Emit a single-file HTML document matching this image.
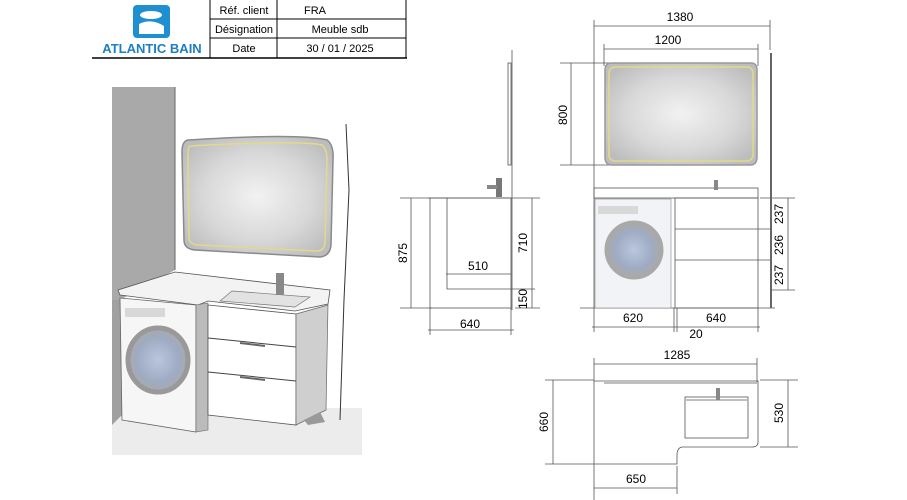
<!DOCTYPE html>
<html><head><meta charset="utf-8"><style>
html,body{margin:0;padding:0;background:#fff;}
svg{display:block;font-family:"Liberation Sans",sans-serif;}
</style></head><body>
<svg width="907" height="500" viewBox="0 0 907 500" xmlns="http://www.w3.org/2000/svg">
<defs>
<radialGradient id="cl" cx="50%" cy="50%" r="60%"><stop offset="0" stop-color="#f2f2f2"/><stop offset="0.6" stop-color="#d8d8d8"/><stop offset="1" stop-color="#bdbdbd"/></radialGradient>
<radialGradient id="dr" cx="50%" cy="50%" r="50%"><stop offset="0" stop-color="#b9c6dc"/><stop offset="0.7" stop-color="#9eabc3"/><stop offset="1" stop-color="#aaa"/></radialGradient>
</defs>
<!-- header -->
<rect x="133" y="5" width="37" height="33" rx="4" fill="#1e8fd0"/>
<ellipse cx="151" cy="15" rx="11" ry="4" fill="#fff"/>
<path d="M139 24 q12 -6 25 2 v8 h-25z" fill="#fff"/>
<text x="152" y="53" font-size="13" font-weight="bold" fill="#1c7fc0" text-anchor="middle">ATLANTIC BAIN</text>
<g stroke="#000" stroke-width="1" fill="none">
<line x1="210" y1="0" x2="210" y2="58"/><line x1="277" y1="0" x2="277" y2="58"/><line x1="406" y1="0" x2="406" y2="58"/>
<line x1="210" y1="19" x2="406" y2="19"/><line x1="210" y1="38" x2="406" y2="38"/>
<line x1="92" y1="58" x2="407" y2="58" stroke-width="1.5"/>
</g>
<g font-size="11" fill="#000" text-anchor="middle">
<text x="244" y="14">Réf. client</text><text x="244" y="33">Désignation</text><text x="244" y="52">Date</text>
<text x="315" y="14">FRA</text><text x="340" y="33">Meuble sdb</text><text x="340" y="52">30 / 01 / 2025</text>
</g>
<!-- perspective scene -->
<rect x="112" y="408" width="250" height="47" fill="#ececec"/>
<polygon points="112,87 175,87 175,270 120,300 112,425" fill="#a9a9a9"/>
<polygon points="112,425 122,415 122,300 112,300" fill="#a0a0a0"/>
<path d="M346 124 L349 190 L344 300 L340 420" stroke="#333" fill="none" stroke-width="1"/>
<line x1="175" y1="87" x2="175" y2="270" stroke="#666"/>
<path d="M188 140 Q300 133 327 140 Q334 145 333 160 L331 245 Q330 256 320 257 L195 250 Q184 249 184 240 L182 152 Q182 141 188 140Z" fill="url(#cl)" stroke="#8a8a8a" stroke-width="1.5"/>
<path d="M190 146 Q300 140 322 145 Q327 149 327 160 L325 243 Q324 251 317 251 L197 245 Q189 244 189 237 L188 154 Q188 147 190 146Z" fill="none" stroke="#e3d98a" stroke-width="1.5"/>
<!-- countertop -->
<polygon points="175,272 330,290 328,304 295,311 208,301 198,305 120,295 118,290" fill="#f3f3f3" stroke="#555" stroke-width="0.8"/>
<polygon points="220,301 232,291 310,297 295,307" fill="#e2e2e2" stroke="#777" stroke-width="0.7"/>
<rect x="276" y="273" width="8" height="22" fill="#888"/>
<!-- washer -->
<polygon points="120,298 196,305 196,432 122,420" fill="#f6f6f6" stroke="#666" stroke-width="0.8"/>
<polygon points="196,305 208,303 208,430 196,432" fill="#bbb" stroke="#666" stroke-width="0.6"/>
<ellipse cx="158" cy="360" rx="30" ry="32" fill="url(#dr)" stroke="#999" stroke-width="5"/>
<rect x="125" y="308" width="40" height="9" fill="#ccc" opacity="0.7"/>
<!-- cabinet -->
<polygon points="208,305 296,314 296,425 208,415" fill="#fff" stroke="#555" stroke-width="0.8"/>
<polygon points="296,314 328,305 326,410 296,425" fill="#cfcfcf" stroke="#666" stroke-width="0.7"/>
<line x1="208" y1="338" x2="296" y2="347" stroke="#444"/>
<line x1="208" y1="372" x2="296" y2="381" stroke="#444"/>
<line x1="240" y1="343" x2="265" y2="346" stroke="#666" stroke-width="2"/>
<line x1="240" y1="377" x2="265" y2="380" stroke="#666" stroke-width="2"/>
<polygon points="304,420 320,412 325,422 308,425" fill="#999"/>
<!-- side view -->
<g stroke="#555" fill="none" stroke-width="0.8">
<line x1="512" y1="50" x2="512" y2="310"/>
<rect x="508" y="63" width="3" height="102"/>
<line x1="428" y1="198" x2="520" y2="198"/>
<rect x="430" y="198" width="81" height="110"/>
<polyline points="447,198 447,289 535,289"/>
<line x1="446" y1="274" x2="511" y2="274"/>
<line x1="411" y1="198" x2="411" y2="308"/><line x1="400" y1="198" x2="430" y2="198"/><line x1="400" y1="308" x2="432" y2="308"/>
<line x1="532" y1="198" x2="532" y2="308"/><line x1="520" y1="198" x2="540" y2="198"/><line x1="515" y1="308" x2="540" y2="308"/>
<line x1="430" y1="308" x2="430" y2="335"/><line x1="511" y1="308" x2="511" y2="335"/><line x1="428" y1="330" x2="514" y2="330"/>
</g>
<rect x="496" y="178" width="6" height="19" fill="#777"/><rect x="487" y="185" width="10" height="4" fill="#888"/>
<g font-size="12" fill="#000" text-anchor="middle">
<text x="478" y="270">510</text>
<text x="470" y="328">640</text>
<text transform="translate(407,253) rotate(-90)">875</text>
<text transform="translate(527,243) rotate(-90)">710</text>
<text transform="translate(527,299) rotate(-90)">150</text>
</g>
<!-- front view -->
<g stroke="#555" fill="none" stroke-width="0.8">
<line x1="594" y1="20" x2="594" y2="308"/>
<line x1="594" y1="26" x2="770" y2="26"/><line x1="770" y1="20" x2="770" y2="50"/>
<line x1="604" y1="49" x2="758" y2="49"/><line x1="604" y1="44" x2="604" y2="66"/><line x1="758" y1="44" x2="758" y2="66"/>
<line x1="571" y1="63" x2="571" y2="165"/><line x1="560" y1="63" x2="610" y2="63"/><line x1="560" y1="165" x2="610" y2="165"/>
<rect x="594" y="188" width="164" height="10"/>
<rect x="675" y="198" width="83" height="110"/>
<line x1="675" y1="229" x2="770" y2="229"/><line x1="675" y1="260" x2="770" y2="260"/>
<line x1="788" y1="198" x2="788" y2="290"/><line x1="760" y1="198" x2="795" y2="198"/><line x1="770" y1="290" x2="795" y2="290"/>
<line x1="580" y1="308" x2="775" y2="308"/>
<line x1="594" y1="308" x2="594" y2="332"/><line x1="674" y1="308" x2="674" y2="332"/><line x1="677" y1="308" x2="677" y2="332"/><line x1="758" y1="308" x2="758" y2="332"/>
<line x1="592" y1="327" x2="760" y2="327"/>
</g>
<line x1="771" y1="53" x2="771" y2="308" stroke="#666" stroke-width="2"/>
<path d="M612 63 H751 Q757 63 757 70 V157 Q757 165 750 165 H612 Q605 165 605 157 V70 Q605 63 612 63Z" fill="url(#cl)" stroke="#999" stroke-width="1.5"/>
<rect x="609" y="67" width="144" height="94" rx="6" fill="none" stroke="#e3d98a" stroke-width="1.5"/>
<rect x="595" y="199" width="76" height="109" fill="#f2f3f6" stroke="#888" stroke-width="0.6"/>
<ellipse cx="634" cy="250" rx="27" ry="27" fill="url(#dr)" stroke="#a9a9a9" stroke-width="5"/>
<rect x="598" y="206" width="40" height="8" fill="#ccc" opacity="0.7"/>
<rect x="714" y="180" width="4" height="10" fill="#888"/>
<g font-size="12" fill="#000" text-anchor="middle">
<text x="680" y="21">1380</text><text x="668" y="44">1200</text>
<text transform="translate(567,115) rotate(-90)">800</text>
<text transform="translate(783,214) rotate(-90)">237</text>
<text transform="translate(783,245) rotate(-90)">236</text>
<text transform="translate(783,275) rotate(-90)">237</text>
<text x="633" y="322">620</text><text x="716" y="322">640</text><text x="696" y="338">20</text>
</g>
<!-- plan view -->
<g stroke="#555" fill="none" stroke-width="0.8">
<line x1="594" y1="364" x2="757" y2="364"/><line x1="594" y1="358" x2="594" y2="500"/><line x1="757" y1="358" x2="757" y2="382"/>
<path d="M594 381 H758 V442 Q758 447 752 447 H682 Q677 448 677 455 V464 H594"/>
<line x1="604" y1="383" x2="757" y2="383"/>
<rect x="685" y="397" width="63" height="41"/>
<line x1="686" y1="400" x2="747" y2="400"/>
<line x1="553" y1="380" x2="553" y2="464"/><line x1="545" y1="380" x2="594" y2="380"/><line x1="545" y1="464" x2="594" y2="464"/>
<line x1="788" y1="380" x2="788" y2="447"/><line x1="760" y1="380" x2="798" y2="380"/><line x1="760" y1="447" x2="798" y2="447"/>
<line x1="594" y1="488" x2="677" y2="488"/><line x1="677" y1="466" x2="677" y2="494"/>
</g>
<rect x="716" y="388" width="4" height="12" fill="#888"/>
<g font-size="12" fill="#000" text-anchor="middle">
<text x="677" y="359">1285</text>
<text transform="translate(548,422) rotate(-90)">660</text>
<text transform="translate(783,413) rotate(-90)">530</text>
<text x="636" y="483">650</text>
</g>
</svg>
</body></html>
